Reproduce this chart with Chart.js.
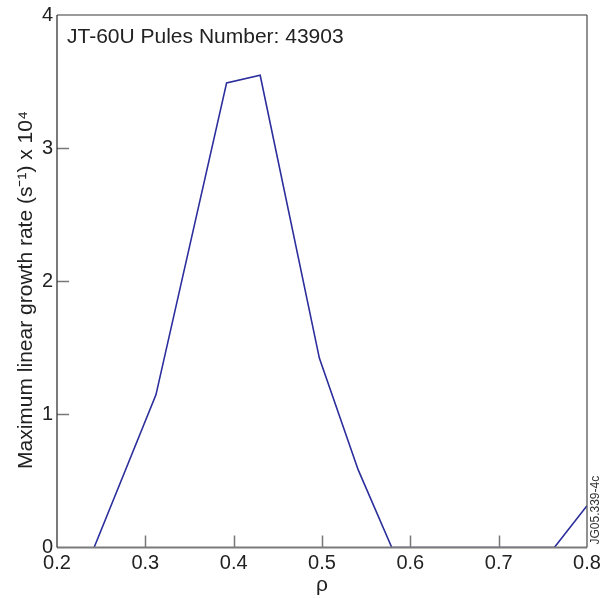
<!DOCTYPE html>
<html>
<head>
<meta charset="utf-8">
<script src="https://cdn.jsdelivr.net/npm/chart.js@4.4.0/dist/chart.umd.min.js"></script>
<style>
  html, body { margin: 0; padding: 0; background: #fff; }
</style>
</head>
<body>
<canvas id="growth" width="602" height="598"></canvas>
<script>
// radial position vs. maximum linear growth rate (x 10^4 s^-1)
const rho = [0.242, 0.312, 0.392, 0.430, 0.497, 0.541, 0.579, 0.763, 0.8];
const growthRate = [0, 1.147, 3.49, 3.547, 1.423, 0.583, 0, 0, 0.314];
const xTicks = [0.2, 0.3, 0.4, 0.5, 0.6, 0.7, 0.8];
const yTicks = [0, 1, 2, 3, 4];

const pulseLabel = 'JT-60U Pules Number: 43903';
const figCode = 'JG05.339-4c';
const fontFamily = '"Liberation Sans", Arial, Helvetica, sans-serif';

// box frame, inward ticks and in-plot labels
const framePlugin = {
    id: 'frame',
    afterDraw(chart) {
        const ctx = chart.ctx;
        const a = chart.chartArea;
        const xs = chart.scales.x, ys = chart.scales.y;
        ctx.save();

        ctx.strokeStyle = '#777';
        ctx.lineWidth = 1.5;
        xTicks.slice(1, -1).forEach(v => {
            const px = Math.round(xs.getPixelForValue(v)) + 0.5;
            ctx.beginPath();
            ctx.moveTo(px, a.bottom);
            ctx.lineTo(px, a.bottom - 12);
            ctx.stroke();
        });
        yTicks.slice(1, -1).forEach(v => {
            const py = Math.round(ys.getPixelForValue(v)) + 0.5;
            ctx.beginPath();
            ctx.moveTo(a.left, py);
            ctx.lineTo(a.left + 12, py);
            ctx.stroke();
        });

        // top and bottom
        ctx.strokeStyle = '#7a7a7a';
        ctx.lineWidth = 2;
        ctx.beginPath();
        ctx.moveTo(a.left, a.bottom);
        ctx.lineTo(a.right, a.bottom);
        ctx.stroke();
        ctx.lineWidth = 1.5;
        ctx.beginPath();
        ctx.moveTo(a.left, a.top);
        ctx.lineTo(a.right, a.top);
        ctx.stroke();
        // left and right
        ctx.strokeStyle = '#333';
        ctx.lineWidth = 1.3;
        ctx.beginPath();
        ctx.moveTo(a.left, a.top);
        ctx.lineTo(a.left, a.bottom);
        ctx.stroke();
        ctx.strokeStyle = '#555';
        ctx.beginPath();
        ctx.moveTo(a.right, a.top);
        ctx.lineTo(a.right, a.bottom);
        ctx.stroke();

        ctx.fillStyle = '#222';
        ctx.font = '21px ' + fontFamily;
        ctx.textBaseline = 'alphabetic';
        ctx.textAlign = 'left';
        ctx.fillText(pulseLabel, a.left + 10, a.top + 28);

        ctx.translate(a.right + 12, a.bottom - 3);
        ctx.rotate(-Math.PI / 2);
        ctx.font = '12px ' + fontFamily;
        ctx.fillStyle = '#333';
        ctx.fillText(figCode, 0, 0);
        ctx.restore();
    }
};

new Chart(document.getElementById('growth').getContext('2d'), {
    type: 'line',
    data: {
        datasets: [{
            data: rho.map((r, i) => ({ x: r, y: growthRate[i] })),
            borderColor: '#2b2e9c',
            borderWidth: 1.6,
            pointRadius: 0,
            tension: 0,
            fill: false
        }]
    },
    options: {
        responsive: false,
        animation: false,
        layout: { padding: { top: 15, right: 15, left: 0, bottom: 0 } },
        plugins: { legend: { display: false }, tooltip: { enabled: false } },
        scales: {
            x: {
                type: 'linear',
                min: 0.2,
                max: 0.8,
                afterBuildTicks: s => { s.ticks = xTicks.map(v => ({ value: v })); },
                afterFit: s => {
                    s.height = 50.5;
                    s.paddingLeft = 0;
                    s.paddingRight = 0;
                },
                grid: { display: false, drawTicks: false },
                border: { display: false },
                ticks: {
                    padding: 4,
                    color: '#222',
                    font: { size: 20, family: fontFamily },
                    maxRotation: 0,
                    callback: v => v.toFixed(1)
                },
                title: {
                    display: true,
                    text: 'ρ',
                    color: '#222',
                    font: { size: 21, family: fontFamily },
                    padding: { top: 0, bottom: 0 }
                }
            },
            y: {
                min: 0,
                max: 4,
                afterBuildTicks: s => { s.ticks = yTicks.map(v => ({ value: v })); },
                afterFit: s => {
                    s.width = 57;
                    s.paddingTop = 0;
                    s.paddingBottom = 0;
                },
                grid: { display: false, drawTicks: false },
                border: { display: false },
                ticks: {
                    padding: 4,
                    color: '#222',
                    font: { size: 20, family: fontFamily }
                },
                title: {
                    display: true,
                    text: 'Maximum linear growth rate (s⁻¹) x 10⁴   ',
                    color: '#222',
                    font: { size: 21, family: fontFamily },
                    padding: { top: 14, bottom: 0 }
                }
            }
        }
    },
    plugins: [framePlugin]
});
</script>
</body>
</html>
